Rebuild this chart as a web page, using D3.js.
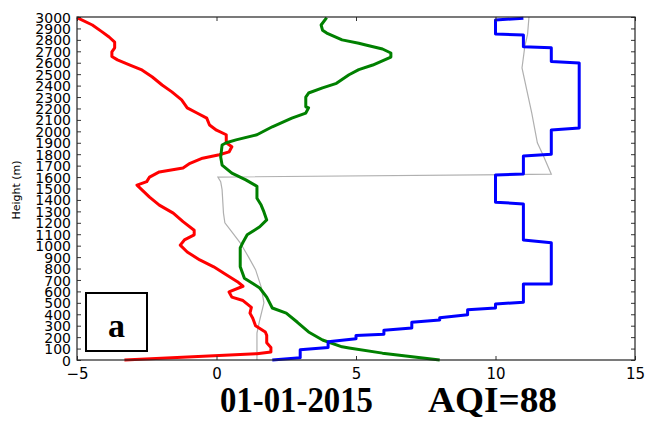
<!DOCTYPE html>
<html>
<head>
<meta charset="utf-8">
<script src="https://cdn.jsdelivr.net/npm/d3@7"></script>
<style>
  html, body { margin: 0; padding: 0; background: #fff; }
  svg { display: block; }
</style>
</head>
<body>
<svg id="chart" width="646" height="421"></svg>
<script>
// ---- data ----
const xTicks = [-5, 0, 5, 10, 15];
const yTicks = d3.range(0, 3001, 100);

const redHeight = [0,55,70,110,150,215,245,300,365,410,460,520,550,595,645,685,745,815,875,945,1005,1050,1095,1135,1210,1285,1355,1425,1530,1560,1600,1645,1680,1720,1765,1795,1820,1865,1900,1970,2010,2055,2115,2160,2205,2275,2345,2405,2475,2540,2580,2625,2655,2695,2730,2780,2825,2870,2930,2995];
const redValue  = [-3.3,1.45,1.95,1.95,1.8,1.8,1.75,1.4,1.3,1.2,1.25,0.95,0.55,0.45,0.95,0.75,0.35,-0.1,-0.6,-1.05,-1.3,-1.15,-0.8,-0.8,-1.2,-1.55,-2.05,-2.4,-2.85,-2.5,-2.4,-2.05,-1.2,-0.95,-0.5,0.1,0.45,0.55,0.35,0.35,0.0,-0.25,-0.35,-0.7,-1.05,-1.25,-1.6,-1.95,-2.3,-2.7,-3.1,-3.55,-3.75,-3.75,-3.65,-3.65,-3.85,-4.1,-4.45,-5.0];

const greenHeight = [0,60,105,115,175,245,330,410,455,550,630,715,815,980,1030,1095,1165,1225,1295,1355,1415,1520,1575,1635,1705,1775,1880,1900,1925,1970,2040,2115,2160,2205,2215,2300,2335,2380,2420,2495,2540,2580,2650,2685,2720,2755,2770,2800,2860,2885,2930,2995];
const greenValue  = [8.0,5.95,4.75,4.5,3.8,3.3,2.9,2.5,2.0,1.8,1.55,1.0,0.85,0.85,0.95,1.1,1.55,1.8,1.7,1.6,1.45,1.45,1.05,0.55,0.2,0.15,0.2,0.35,0.7,1.45,2.0,2.7,3.2,3.3,3.2,3.2,3.3,3.8,4.3,4.75,5.1,5.6,6.25,6.25,5.95,5.35,5.1,4.5,3.95,3.8,3.75,3.95];

const blueHeight = [0,20,90,110,160,185,215,225,260,280,330,350,370,395,440,455,490,505,665,665,1026,1050,1365,1380,1618,1627,1785,1800,2012,2030,2597,2610,2732,2740,2843,2851,2974,2990];
const blueValue  = [2,3,3,4,4,5,5,6,6,7,7,8,8,9,9,10,10,11,11,12,12,11,11,10,10,11,11,12,12,13,13,12,12,11,11,10,10,11];

const grayHeight = [0,235,350,500,640,790,900,1025,1120,1200,1285,1490,1560,1600,1625,1795,1900,2160,2555,2740,2850,3000];
const grayValue  = [1.45,1.45,1.55,1.7,1.6,1.4,1.15,0.85,0.55,0.3,0.25,0.2,0.15,0.05,12.0,11.7,11.5,11.3,10.95,11.05,11.15,11.2];

const titleDate = "01-01-2015";
const titleAQI = "AQI=88";
const panelLabel = "a";
const yLabel = "Height (m)";

// ---- layout ----
(function () {
const svg = d3.select("#chart");
const pL = 77, pR = 635, pT = 17, pB = 360;

const x = d3.scaleLinear().domain([-5, 15]).range([pL, pR]);
const y = d3.scaleLinear().domain([0, 3000]).range([pB, pT]);

const frameColor = "#222";

function series(vals, hts) { return vals.map((v, i) => [v, hts[i]]); }
const line = d3.line().x(d => x(d[0])).y(d => y(d[1]));

const g = svg.append("g");
g.append("path").datum(series(grayValue, grayHeight))
  .attr("d", line).attr("fill", "none").attr("stroke", "#b0b0b0").attr("stroke-width", 1.2);
g.append("path").datum(series(redValue, redHeight))
  .attr("d", line).attr("fill", "none").attr("stroke", "#ff0000").attr("stroke-width", 3).attr("stroke-linejoin", "round");
g.append("path").datum(series(greenValue, greenHeight))
  .attr("d", line).attr("fill", "none").attr("stroke", "#008000").attr("stroke-width", 3).attr("stroke-linejoin", "round");
g.append("path").datum(series(blueValue, blueHeight))
  .attr("d", line).attr("fill", "none").attr("stroke", "#0000ff").attr("stroke-width", 3).attr("stroke-linejoin", "round");

const tickFont = "DejaVu Sans, sans-serif";
const yAxisL = svg.append("g").attr("transform", `translate(${pL},0)`)
  .call(d3.axisLeft(y).tickValues(yTicks).tickSizeInner(-4).tickSizeOuter(0).tickPadding(6).tickFormat(d3.format("d")));
yAxisL.select(".domain").remove();
yAxisL.selectAll("line").attr("stroke", "#333");
yAxisL.selectAll("text").attr("font-family", tickFont).attr("font-size", 14).attr("fill", "#000")
  .attr("dy", "0.36em").attr("x", -6);

const yAxisR = svg.append("g").attr("transform", `translate(${pR},0)`)
  .call(d3.axisRight(y).tickValues(yTicks).tickSizeInner(-4).tickSizeOuter(0).tickFormat(""));
yAxisR.select(".domain").remove();
yAxisR.selectAll("line").attr("stroke", "#333");

const fmtX = d => (d < 0 ? "\u2212" + Math.abs(d) : String(d));
const xAxisB = svg.append("g").attr("transform", `translate(0,${pB})`)
  .call(d3.axisBottom(x).tickValues(xTicks).tickSizeInner(-4).tickSizeOuter(0).tickPadding(8).tickFormat(fmtX));
xAxisB.select(".domain").remove();
xAxisB.selectAll("line").attr("stroke", "#333");
xAxisB.selectAll("text").attr("font-family", tickFont).attr("font-size", 15).attr("fill", "#000");

const xAxisT = svg.append("g").attr("transform", `translate(0,${pT})`)
  .call(d3.axisTop(x).tickValues(xTicks).tickSizeInner(-4).tickSizeOuter(0).tickFormat(""));
xAxisT.select(".domain").remove();
xAxisT.selectAll("line").attr("stroke", "#333");

svg.append("rect").attr("x", pL).attr("y", pT).attr("width", pR - pL).attr("height", pB - pT)
  .attr("fill", "none").attr("stroke", frameColor).attr("stroke-width", 1.2);

svg.append("text").attr("transform", `translate(20,190) rotate(-90)`)
  .attr("text-anchor", "middle").attr("font-family", tickFont).attr("font-size", 11).attr("fill", "#000")
  .text(yLabel);

svg.append("rect").attr("x", 86).attr("y", 293).attr("width", 61).attr("height", 58)
  .attr("fill", "#fff").attr("stroke", "#000").attr("stroke-width", 2);
svg.append("text").attr("x", 116.5).attr("y", 337).attr("text-anchor", "middle")
  .attr("font-family", "Liberation Serif, Times New Roman, serif").attr("font-weight", "bold").attr("font-size", 34)
  .attr("fill", "#000").text(panelLabel);

const serif = "Liberation Serif, Times New Roman, serif";
svg.append("text").attr("x", 220).attr("y", 412).attr("font-family", serif).attr("font-weight", "bold")
  .attr("font-size", 35).attr("fill", "#000").attr("textLength", 153).attr("lengthAdjust", "spacingAndGlyphs").text(titleDate);
svg.append("text").attr("x", 428).attr("y", 412).attr("font-family", serif).attr("font-weight", "bold")
  .attr("font-size", 35).attr("fill", "#000").attr("textLength", 129).attr("lengthAdjust", "spacingAndGlyphs").text(titleAQI);
})();
</script>
</body>
</html>
